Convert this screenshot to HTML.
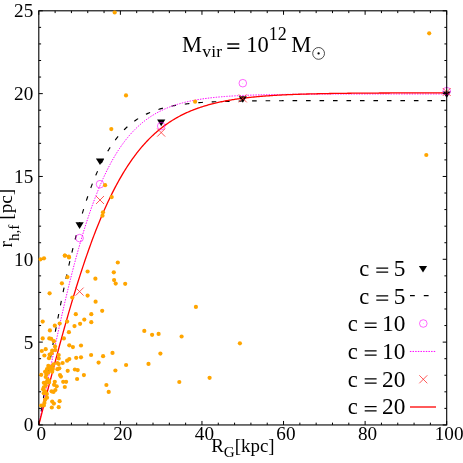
<!DOCTYPE html><html><head><meta charset="utf-8"><style>html,body{margin:0;padding:0;background:#fff}body{width:463px;height:463px;overflow:hidden;position:relative}</style></head><body><svg width="463" height="463" viewBox="0 0 463 463" style="position:absolute;left:0;top:0;will-change:transform">
<defs><clipPath id="cp"><rect x="38.3" y="10.3" width="408.9" height="415.2"/></clipPath></defs>
<path d="M38.80,424.95 L39.82,419.03 L40.84,413.12 L41.86,407.21 L42.88,401.32 L43.90,395.44 L44.92,389.58 L45.94,383.74 L46.96,377.93 L47.98,372.15 L49.00,366.41 L50.02,360.70 L51.04,355.04 L52.06,349.41 L53.08,343.84 L54.10,338.32 L55.12,332.85 L56.14,327.43 L57.16,322.08 L58.18,316.79 L59.19,311.56 L60.21,306.40 L61.23,301.30 L62.25,296.28 L63.27,291.33 L64.29,286.45 L65.31,281.65 L66.33,276.92 L67.35,272.28 L68.37,267.71 L69.39,263.22 L70.41,258.82 L71.43,254.49 L72.45,250.25 L73.47,246.09 L74.49,242.01 L75.51,238.01 L76.53,234.10 L77.55,230.27 L78.57,226.53 L79.59,222.87 L80.61,219.29 L81.63,215.79 L82.65,212.37 L83.67,209.03 L84.69,205.78 L85.71,202.60 L86.73,199.50 L87.75,196.48 L88.77,193.54 L89.79,190.67 L90.81,187.87 L91.83,185.15 L92.85,182.51 L93.87,179.93 L94.89,177.42 L95.91,174.98 L96.93,172.61 L97.95,170.31 L98.97,168.07 L99.98,165.90 L101.00,163.78 L102.02,161.73 L103.04,159.74 L104.06,157.81 L105.08,155.93 L106.10,154.11 L107.12,152.35 L108.14,150.64 L109.16,148.98 L110.18,147.37 L111.20,145.81 L112.22,144.30 L113.24,142.83 L114.26,141.41 L115.28,140.04 L116.30,138.71 L117.32,137.42 L118.34,136.17 L119.36,134.96 L120.38,133.79 L121.40,132.66 L122.42,131.57 L123.44,130.51 L124.46,129.48 L125.48,128.49 L126.50,127.54 L127.52,126.61 L128.54,125.71 L129.56,124.85 L130.58,124.01 L131.60,123.20 L132.62,122.41 L133.64,121.66 L134.66,120.93 L135.68,120.22 L136.70,119.54 L137.72,118.88 L138.74,118.24 L139.76,117.62 L140.77,117.03 L141.79,116.45 L142.81,115.90 L143.83,115.36 L144.85,114.84 L145.87,114.34 L146.89,113.86 L147.91,113.39 L148.93,112.94 L149.95,112.51 L150.97,112.09 L151.99,111.68 L153.01,111.29 L154.03,110.92 L155.05,110.55 L156.07,110.20 L157.09,109.86 L158.11,109.53 L159.13,109.22 L160.15,108.91 L161.17,108.62 L162.19,108.33 L163.21,108.06 L164.23,107.79 L165.25,107.54 L166.27,107.29 L167.29,107.05 L168.31,106.82 L169.33,106.60 L170.35,106.39 L171.37,106.18 L172.39,105.98 L173.41,105.79 L174.43,105.61 L175.45,105.43 L176.47,105.26 L177.49,105.09 L178.51,104.93 L179.53,104.77 L180.55,104.63 L181.56,104.48 L182.58,104.34 L183.60,104.21 L184.62,104.08 L185.64,103.96 L186.66,103.84 L187.68,103.72 L188.70,103.61 L189.72,103.50 L190.74,103.40 L191.76,103.30 L192.78,103.20 L193.80,103.11 L194.82,103.02 L195.84,102.93 L196.86,102.85 L197.88,102.77 L198.90,102.69 L199.92,102.61 L200.94,102.54 L201.96,102.47 L202.98,102.40 L204.00,102.34 L205.02,102.28 L206.04,102.22 L207.06,102.16 L208.08,102.10 L209.10,102.05 L210.12,101.99 L211.14,101.94 L212.16,101.90 L213.18,101.85 L214.20,101.80 L215.22,101.76 L216.24,101.72 L217.26,101.68 L218.28,101.64 L219.30,101.60 L220.32,101.57 L221.34,101.53 L222.36,101.50 L223.37,101.46 L224.39,101.43 L225.41,101.40 L226.43,101.37 L227.45,101.35 L228.47,101.32 L229.49,101.29 L230.51,101.27 L231.53,101.24 L232.55,101.22 L233.57,101.20 L234.59,101.17 L235.61,101.15 L236.63,101.13 L237.65,101.11 L238.67,101.09 L239.69,101.08 L240.71,101.06 L241.73,101.04 L242.75,101.03 L243.77,101.01 L244.79,101.00 L245.81,100.98 L246.83,100.97 L247.85,100.95 L248.87,100.94 L249.89,100.93 L250.91,100.92 L251.93,100.90 L252.95,100.89 L253.97,100.88 L254.99,100.87 L256.01,100.86 L257.03,100.85 L258.05,100.84 L259.07,100.83 L260.09,100.82 L261.11,100.82 L262.13,100.81 L263.14,100.80 L264.16,100.79 L265.18,100.78 L266.20,100.78 L267.22,100.77 L268.24,100.76 L269.26,100.76 L270.28,100.75 L271.30,100.75 L272.32,100.74 L273.34,100.73 L274.36,100.73 L275.38,100.72 L276.40,100.72 L277.42,100.71 L278.44,100.71 L279.46,100.71 L280.48,100.70 L281.50,100.70 L282.52,100.69 L283.54,100.69 L284.56,100.69 L285.58,100.68 L286.60,100.68 L287.62,100.68 L288.64,100.67 L289.66,100.67 L290.68,100.67 L291.70,100.66 L292.72,100.66 L293.74,100.66 L294.76,100.66 L295.78,100.65 L296.80,100.65 L297.82,100.65 L298.84,100.65 L299.86,100.64 L300.88,100.64 L301.90,100.64 L302.92,100.64 L303.94,100.64 L304.95,100.64 L305.97,100.63 L306.99,100.63 L308.01,100.63 L309.03,100.63 L310.05,100.63 L311.07,100.63 L312.09,100.62 L313.11,100.62 L314.13,100.62 L315.15,100.62 L316.17,100.62 L317.19,100.62 L318.21,100.62 L319.23,100.62 L320.25,100.62 L321.27,100.61 L322.29,100.61 L323.31,100.61 L324.33,100.61 L325.35,100.61 L326.37,100.61 L327.39,100.61 L328.41,100.61 L329.43,100.61 L330.45,100.61 L331.47,100.61 L332.49,100.61 L333.51,100.60 L334.53,100.60 L335.55,100.60 L336.57,100.60 L337.59,100.60 L338.61,100.60 L339.63,100.60 L340.65,100.60 L341.67,100.60 L342.69,100.60 L343.71,100.60 L344.73,100.60 L345.74,100.60 L346.76,100.60 L347.78,100.60 L348.80,100.60 L349.82,100.60 L350.84,100.60 L351.86,100.60 L352.88,100.60 L353.90,100.60 L354.92,100.60 L355.94,100.60 L356.96,100.60 L357.98,100.59 L359.00,100.59 L360.02,100.59 L361.04,100.59 L362.06,100.59 L363.08,100.59 L364.10,100.59 L365.12,100.59 L366.14,100.59 L367.16,100.59 L368.18,100.59 L369.20,100.59 L370.22,100.59 L371.24,100.59 L372.26,100.59 L373.28,100.59 L374.30,100.59 L375.32,100.59 L376.34,100.59 L377.36,100.59 L378.38,100.59 L379.40,100.59 L380.42,100.59 L381.44,100.59 L382.46,100.59 L383.48,100.59 L384.50,100.59 L385.51,100.59 L386.53,100.59 L387.55,100.59 L388.57,100.59 L389.59,100.59 L390.61,100.59 L391.63,100.59 L392.65,100.59 L393.67,100.59 L394.69,100.59 L395.71,100.59 L396.73,100.59 L397.75,100.59 L398.77,100.59 L399.79,100.59 L400.81,100.59 L401.83,100.59 L402.85,100.59 L403.87,100.59 L404.89,100.59 L405.91,100.59 L406.93,100.59 L407.95,100.59 L408.97,100.59 L409.99,100.59 L411.01,100.59 L412.03,100.59 L413.05,100.59 L414.07,100.59 L415.09,100.59 L416.11,100.59 L417.13,100.59 L418.15,100.59 L419.17,100.59 L420.19,100.59 L421.21,100.59 L422.23,100.59 L423.25,100.59 L424.27,100.59 L425.29,100.59 L426.31,100.59 L427.32,100.59 L428.34,100.59 L429.36,100.59 L430.38,100.59 L431.40,100.59 L432.42,100.59 L433.44,100.59 L434.46,100.59 L435.48,100.59 L436.50,100.59 L437.52,100.59 L438.54,100.59 L439.56,100.59 L440.58,100.59 L441.60,100.59 L442.62,100.59 L443.64,100.59 L444.66,100.59 L445.68,100.59 L446.70,100.59" fill="none" stroke="#000" stroke-width="1.15" stroke-dasharray="4.6 8.88" stroke-dashoffset="13.18"/>
<path d="M38.80,424.95 L39.82,419.91 L40.84,414.87 L41.86,409.84 L42.88,404.82 L43.90,399.80 L44.92,394.80 L45.94,389.81 L46.96,384.83 L47.98,379.88 L49.00,374.94 L50.02,370.03 L51.04,365.14 L52.06,360.28 L53.08,355.45 L54.10,350.65 L55.12,345.88 L56.14,341.14 L57.16,336.45 L58.18,331.79 L59.19,327.17 L60.21,322.59 L61.23,318.05 L62.25,313.56 L63.27,309.11 L64.29,304.72 L65.31,300.37 L66.33,296.07 L67.35,291.82 L68.37,287.62 L69.39,283.47 L70.41,279.38 L71.43,275.34 L72.45,271.36 L73.47,267.43 L74.49,263.57 L75.51,259.75 L76.53,256.00 L77.55,252.30 L78.57,248.66 L79.59,245.08 L80.61,241.56 L81.63,238.10 L82.65,234.69 L83.67,231.35 L84.69,228.06 L85.71,224.83 L86.73,221.67 L87.75,218.56 L88.77,215.51 L89.79,212.51 L90.81,209.58 L91.83,206.70 L92.85,203.88 L93.87,201.12 L94.89,198.41 L95.91,195.76 L96.93,193.17 L97.95,190.63 L98.97,188.14 L99.98,185.71 L101.00,183.33 L102.02,181.00 L103.04,178.72 L104.06,176.50 L105.08,174.32 L106.10,172.20 L107.12,170.12 L108.14,168.09 L109.16,166.11 L110.18,164.18 L111.20,162.29 L112.22,160.44 L113.24,158.65 L114.26,156.89 L115.28,155.18 L116.30,153.51 L117.32,151.88 L118.34,150.29 L119.36,148.74 L120.38,147.23 L121.40,145.75 L122.42,144.32 L123.44,142.92 L124.46,141.56 L125.48,140.23 L126.50,138.94 L127.52,137.68 L128.54,136.45 L129.56,135.26 L130.58,134.09 L131.60,132.96 L132.62,131.86 L133.64,130.78 L134.66,129.74 L135.68,128.72 L136.70,127.73 L137.72,126.77 L138.74,125.83 L139.76,124.92 L140.77,124.04 L141.79,123.17 L142.81,122.33 L143.83,121.52 L144.85,120.73 L145.87,119.95 L146.89,119.21 L147.91,118.48 L148.93,117.77 L149.95,117.08 L150.97,116.41 L151.99,115.76 L153.01,115.12 L154.03,114.51 L155.05,113.91 L156.07,113.33 L157.09,112.77 L158.11,112.22 L159.13,111.69 L160.15,111.17 L161.17,110.66 L162.19,110.18 L163.21,109.70 L164.23,109.24 L165.25,108.79 L166.27,108.36 L167.29,107.93 L168.31,107.52 L169.33,107.12 L170.35,106.74 L171.37,106.36 L172.39,106.00 L173.41,105.64 L174.43,105.30 L175.45,104.96 L176.47,104.64 L177.49,104.32 L178.51,104.02 L179.53,103.72 L180.55,103.43 L181.56,103.15 L182.58,102.88 L183.60,102.62 L184.62,102.36 L185.64,102.11 L186.66,101.87 L187.68,101.63 L188.70,101.41 L189.72,101.19 L190.74,100.97 L191.76,100.76 L192.78,100.56 L193.80,100.37 L194.82,100.18 L195.84,99.99 L196.86,99.81 L197.88,99.64 L198.90,99.47 L199.92,99.31 L200.94,99.15 L201.96,98.99 L202.98,98.84 L204.00,98.70 L205.02,98.56 L206.04,98.42 L207.06,98.29 L208.08,98.16 L209.10,98.03 L210.12,97.91 L211.14,97.79 L212.16,97.68 L213.18,97.57 L214.20,97.46 L215.22,97.36 L216.24,97.25 L217.26,97.16 L218.28,97.06 L219.30,96.97 L220.32,96.88 L221.34,96.79 L222.36,96.71 L223.37,96.62 L224.39,96.55 L225.41,96.47 L226.43,96.39 L227.45,96.32 L228.47,96.25 L229.49,96.18 L230.51,96.12 L231.53,96.05 L232.55,95.99 L233.57,95.93 L234.59,95.87 L235.61,95.81 L236.63,95.76 L237.65,95.70 L238.67,95.65 L239.69,95.60 L240.71,95.55 L241.73,95.50 L242.75,95.46 L243.77,95.41 L244.79,95.37 L245.81,95.33 L246.83,95.29 L247.85,95.25 L248.87,95.21 L249.89,95.17 L250.91,95.13 L251.93,95.10 L252.95,95.07 L253.97,95.03 L254.99,95.00 L256.01,94.97 L257.03,94.94 L258.05,94.91 L259.07,94.88 L260.09,94.85 L261.11,94.83 L262.13,94.80 L263.14,94.78 L264.16,94.75 L265.18,94.73 L266.20,94.70 L267.22,94.68 L268.24,94.66 L269.26,94.64 L270.28,94.62 L271.30,94.60 L272.32,94.58 L273.34,94.56 L274.36,94.54 L275.38,94.53 L276.40,94.51 L277.42,94.49 L278.44,94.48 L279.46,94.46 L280.48,94.45 L281.50,94.43 L282.52,94.42 L283.54,94.40 L284.56,94.39 L285.58,94.38 L286.60,94.37 L287.62,94.35 L288.64,94.34 L289.66,94.33 L290.68,94.32 L291.70,94.31 L292.72,94.30 L293.74,94.29 L294.76,94.28 L295.78,94.27 L296.80,94.26 L297.82,94.25 L298.84,94.24 L299.86,94.23 L300.88,94.23 L301.90,94.22 L302.92,94.21 L303.94,94.20 L304.95,94.20 L305.97,94.19 L306.99,94.18 L308.01,94.17 L309.03,94.17 L310.05,94.16 L311.07,94.16 L312.09,94.15 L313.11,94.14 L314.13,94.14 L315.15,94.13 L316.17,94.13 L317.19,94.12 L318.21,94.12 L319.23,94.11 L320.25,94.11 L321.27,94.11 L322.29,94.10 L323.31,94.10 L324.33,94.09 L325.35,94.09 L326.37,94.08 L327.39,94.08 L328.41,94.08 L329.43,94.07 L330.45,94.07 L331.47,94.07 L332.49,94.06 L333.51,94.06 L334.53,94.06 L335.55,94.06 L336.57,94.05 L337.59,94.05 L338.61,94.05 L339.63,94.04 L340.65,94.04 L341.67,94.04 L342.69,94.04 L343.71,94.03 L344.73,94.03 L345.74,94.03 L346.76,94.03 L347.78,94.03 L348.80,94.02 L349.82,94.02 L350.84,94.02 L351.86,94.02 L352.88,94.02 L353.90,94.02 L354.92,94.01 L355.94,94.01 L356.96,94.01 L357.98,94.01 L359.00,94.01 L360.02,94.01 L361.04,94.01 L362.06,94.00 L363.08,94.00 L364.10,94.00 L365.12,94.00 L366.14,94.00 L367.16,94.00 L368.18,94.00 L369.20,94.00 L370.22,93.99 L371.24,93.99 L372.26,93.99 L373.28,93.99 L374.30,93.99 L375.32,93.99 L376.34,93.99 L377.36,93.99 L378.38,93.99 L379.40,93.99 L380.42,93.99 L381.44,93.99 L382.46,93.98 L383.48,93.98 L384.50,93.98 L385.51,93.98 L386.53,93.98 L387.55,93.98 L388.57,93.98 L389.59,93.98 L390.61,93.98 L391.63,93.98 L392.65,93.98 L393.67,93.98 L394.69,93.98 L395.71,93.98 L396.73,93.98 L397.75,93.98 L398.77,93.98 L399.79,93.98 L400.81,93.97 L401.83,93.97 L402.85,93.97 L403.87,93.97 L404.89,93.97 L405.91,93.97 L406.93,93.97 L407.95,93.97 L408.97,93.97 L409.99,93.97 L411.01,93.97 L412.03,93.97 L413.05,93.97 L414.07,93.97 L415.09,93.97 L416.11,93.97 L417.13,93.97 L418.15,93.97 L419.17,93.97 L420.19,93.97 L421.21,93.97 L422.23,93.97 L423.25,93.97 L424.27,93.97 L425.29,93.97 L426.31,93.97 L427.32,93.97 L428.34,93.97 L429.36,93.97 L430.38,93.97 L431.40,93.97 L432.42,93.97 L433.44,93.97 L434.46,93.97 L435.48,93.97 L436.50,93.97 L437.52,93.97 L438.54,93.97 L439.56,93.97 L440.58,93.97 L441.60,93.97 L442.62,93.97 L443.64,93.97 L444.66,93.96 L445.68,93.96 L446.70,93.96" fill="none" stroke="#ff00ff" stroke-width="1.0" stroke-dasharray="1.45 1.2"/>
<path d="M38.80,424.95 L39.82,420.97 L40.84,416.99 L41.86,413.01 L42.88,409.03 L43.90,405.06 L44.92,401.10 L45.94,397.14 L46.96,393.19 L47.98,389.25 L49.00,385.31 L50.02,381.39 L51.04,377.49 L52.06,373.59 L53.08,369.71 L54.10,365.85 L55.12,362.00 L56.14,358.17 L57.16,354.36 L58.18,350.56 L59.19,346.79 L60.21,343.04 L61.23,339.31 L62.25,335.60 L63.27,331.92 L64.29,328.26 L65.31,324.63 L66.33,321.03 L67.35,317.45 L68.37,313.90 L69.39,310.37 L70.41,306.88 L71.43,303.41 L72.45,299.98 L73.47,296.58 L74.49,293.20 L75.51,289.86 L76.53,286.56 L77.55,283.28 L78.57,280.04 L79.59,276.83 L80.61,273.66 L81.63,270.52 L82.65,267.42 L83.67,264.35 L84.69,261.31 L85.71,258.32 L86.73,255.35 L87.75,252.43 L88.77,249.54 L89.79,246.68 L90.81,243.87 L91.83,241.09 L92.85,238.34 L93.87,235.63 L94.89,232.96 L95.91,230.33 L96.93,227.73 L97.95,225.17 L98.97,222.65 L99.98,220.16 L101.00,217.71 L102.02,215.30 L103.04,212.92 L104.06,210.58 L105.08,208.27 L106.10,206.00 L107.12,203.77 L108.14,201.57 L109.16,199.41 L110.18,197.28 L111.20,195.18 L112.22,193.12 L113.24,191.10 L114.26,189.11 L115.28,187.15 L116.30,185.22 L117.32,183.33 L118.34,181.47 L119.36,179.65 L120.38,177.85 L121.40,176.09 L122.42,174.36 L123.44,172.66 L124.46,170.99 L125.48,169.35 L126.50,167.74 L127.52,166.16 L128.54,164.61 L129.56,163.09 L130.58,161.60 L131.60,160.13 L132.62,158.69 L133.64,157.28 L134.66,155.90 L135.68,154.55 L136.70,153.22 L137.72,151.91 L138.74,150.63 L139.76,149.38 L140.77,148.15 L141.79,146.95 L142.81,145.76 L143.83,144.61 L144.85,143.47 L145.87,142.36 L146.89,141.27 L147.91,140.21 L148.93,139.16 L149.95,138.14 L150.97,137.14 L151.99,136.15 L153.01,135.19 L154.03,134.25 L155.05,133.33 L156.07,132.43 L157.09,131.54 L158.11,130.68 L159.13,129.83 L160.15,129.00 L161.17,128.19 L162.19,127.39 L163.21,126.61 L164.23,125.85 L165.25,125.11 L166.27,124.38 L167.29,123.67 L168.31,122.97 L169.33,122.28 L170.35,121.62 L171.37,120.96 L172.39,120.32 L173.41,119.70 L174.43,119.08 L175.45,118.49 L176.47,117.90 L177.49,117.33 L178.51,116.77 L179.53,116.22 L180.55,115.68 L181.56,115.16 L182.58,114.65 L183.60,114.15 L184.62,113.66 L185.64,113.18 L186.66,112.71 L187.68,112.25 L188.70,111.80 L189.72,111.37 L190.74,110.94 L191.76,110.52 L192.78,110.11 L193.80,109.71 L194.82,109.32 L195.84,108.94 L196.86,108.57 L197.88,108.20 L198.90,107.84 L199.92,107.50 L200.94,107.15 L201.96,106.82 L202.98,106.50 L204.00,106.18 L205.02,105.87 L206.04,105.56 L207.06,105.27 L208.08,104.98 L209.10,104.69 L210.12,104.42 L211.14,104.15 L212.16,103.88 L213.18,103.62 L214.20,103.37 L215.22,103.12 L216.24,102.88 L217.26,102.65 L218.28,102.42 L219.30,102.19 L220.32,101.97 L221.34,101.76 L222.36,101.55 L223.37,101.35 L224.39,101.15 L225.41,100.95 L226.43,100.76 L227.45,100.57 L228.47,100.39 L229.49,100.21 L230.51,100.04 L231.53,99.87 L232.55,99.70 L233.57,99.54 L234.59,99.38 L235.61,99.23 L236.63,99.08 L237.65,98.93 L238.67,98.79 L239.69,98.65 L240.71,98.51 L241.73,98.38 L242.75,98.24 L243.77,98.12 L244.79,97.99 L245.81,97.87 L246.83,97.75 L247.85,97.63 L248.87,97.52 L249.89,97.41 L250.91,97.30 L251.93,97.20 L252.95,97.09 L253.97,96.99 L254.99,96.89 L256.01,96.80 L257.03,96.70 L258.05,96.61 L259.07,96.52 L260.09,96.43 L261.11,96.35 L262.13,96.26 L263.14,96.18 L264.16,96.10 L265.18,96.02 L266.20,95.95 L267.22,95.87 L268.24,95.80 L269.26,95.73 L270.28,95.66 L271.30,95.59 L272.32,95.53 L273.34,95.46 L274.36,95.40 L275.38,95.34 L276.40,95.28 L277.42,95.22 L278.44,95.16 L279.46,95.11 L280.48,95.05 L281.50,95.00 L282.52,94.95 L283.54,94.90 L284.56,94.85 L285.58,94.80 L286.60,94.75 L287.62,94.71 L288.64,94.66 L289.66,94.62 L290.68,94.57 L291.70,94.53 L292.72,94.49 L293.74,94.45 L294.76,94.41 L295.78,94.38 L296.80,94.34 L297.82,94.30 L298.84,94.27 L299.86,94.23 L300.88,94.20 L301.90,94.16 L302.92,94.13 L303.94,94.10 L304.95,94.07 L305.97,94.04 L306.99,94.01 L308.01,93.98 L309.03,93.95 L310.05,93.93 L311.07,93.90 L312.09,93.87 L313.11,93.85 L314.13,93.82 L315.15,93.80 L316.17,93.78 L317.19,93.75 L318.21,93.73 L319.23,93.71 L320.25,93.69 L321.27,93.67 L322.29,93.65 L323.31,93.63 L324.33,93.61 L325.35,93.59 L326.37,93.57 L327.39,93.55 L328.41,93.53 L329.43,93.52 L330.45,93.50 L331.47,93.48 L332.49,93.47 L333.51,93.45 L334.53,93.44 L335.55,93.42 L336.57,93.41 L337.59,93.39 L338.61,93.38 L339.63,93.36 L340.65,93.35 L341.67,93.34 L342.69,93.32 L343.71,93.31 L344.73,93.30 L345.74,93.29 L346.76,93.28 L347.78,93.27 L348.80,93.25 L349.82,93.24 L350.84,93.23 L351.86,93.22 L352.88,93.21 L353.90,93.20 L354.92,93.19 L355.94,93.18 L356.96,93.18 L357.98,93.17 L359.00,93.16 L360.02,93.15 L361.04,93.14 L362.06,93.13 L363.08,93.13 L364.10,93.12 L365.12,93.11 L366.14,93.10 L367.16,93.10 L368.18,93.09 L369.20,93.08 L370.22,93.08 L371.24,93.07 L372.26,93.06 L373.28,93.06 L374.30,93.05 L375.32,93.04 L376.34,93.04 L377.36,93.03 L378.38,93.03 L379.40,93.02 L380.42,93.02 L381.44,93.01 L382.46,93.01 L383.48,93.00 L384.50,93.00 L385.51,92.99 L386.53,92.99 L387.55,92.98 L388.57,92.98 L389.59,92.98 L390.61,92.97 L391.63,92.97 L392.65,92.96 L393.67,92.96 L394.69,92.96 L395.71,92.95 L396.73,92.95 L397.75,92.95 L398.77,92.94 L399.79,92.94 L400.81,92.94 L401.83,92.93 L402.85,92.93 L403.87,92.93 L404.89,92.92 L405.91,92.92 L406.93,92.92 L407.95,92.91 L408.97,92.91 L409.99,92.91 L411.01,92.91 L412.03,92.90 L413.05,92.90 L414.07,92.90 L415.09,92.90 L416.11,92.89 L417.13,92.89 L418.15,92.89 L419.17,92.89 L420.19,92.89 L421.21,92.88 L422.23,92.88 L423.25,92.88 L424.27,92.88 L425.29,92.88 L426.31,92.87 L427.32,92.87 L428.34,92.87 L429.36,92.87 L430.38,92.87 L431.40,92.87 L432.42,92.87 L433.44,92.86 L434.46,92.86 L435.48,92.86 L436.50,92.86 L437.52,92.86 L438.54,92.86 L439.56,92.86 L440.58,92.85 L441.60,92.85 L442.62,92.85 L443.64,92.85 L444.66,92.85 L445.68,92.85 L446.70,92.85" fill="none" stroke="#ff0000" stroke-width="1.3"/>
<path d="M75.5,222.3 L83.7,222.3 L79.6,228.9Z" fill="#000"/>
<path d="M95.9,158.4 L104.1,158.4 L100.0,165.0Z" fill="#000"/>
<path d="M157.1,119.6 L165.3,119.6 L161.2,126.2Z" fill="#000"/>
<path d="M238.7,96.2 L246.8,96.2 L242.8,102.8Z" fill="#000"/>
<path d="M442.6,91.4 L450.8,91.4 L446.7,98.0Z" fill="#000"/>
<circle cx="79.6" cy="238.1" r="3.8" fill="none" stroke="#ff00ff" stroke-width="0.6"/><circle cx="79.6" cy="238.1" r="0.45" fill="#ff00ff" opacity="0.45"/>
<circle cx="100.0" cy="184.2" r="3.8" fill="none" stroke="#ff00ff" stroke-width="0.6"/><circle cx="100.0" cy="184.2" r="0.45" fill="#ff00ff" opacity="0.45"/>
<circle cx="161.2" cy="126.1" r="3.8" fill="none" stroke="#ff00ff" stroke-width="0.6"/><circle cx="161.2" cy="126.1" r="0.45" fill="#ff00ff" opacity="0.45"/>
<circle cx="242.8" cy="83.2" r="3.8" fill="none" stroke="#ff00ff" stroke-width="0.6"/><circle cx="242.8" cy="83.2" r="0.45" fill="#ff00ff" opacity="0.45"/>
<circle cx="446.7" cy="91.1" r="3.8" fill="none" stroke="#ff00ff" stroke-width="0.6"/><circle cx="446.7" cy="91.1" r="0.45" fill="#ff00ff" opacity="0.45"/>
<path d="M75.6,287.6 L83.6,295.6 M75.6,295.6 L83.6,287.6" stroke="#ff3030" stroke-width="0.8" fill="none"/>
<path d="M96.0,196.0 L104.0,204.0 M96.0,204.0 L104.0,196.0" stroke="#ff3030" stroke-width="0.8" fill="none"/>
<path d="M157.2,128.6 L165.2,136.6 M157.2,136.6 L165.2,128.6" stroke="#ff3030" stroke-width="0.8" fill="none"/>
<path d="M238.8,94.4 L246.8,102.4 M238.8,102.4 L246.8,94.4" stroke="#ff3030" stroke-width="0.8" fill="none"/>
<path d="M442.7,88.0 L450.7,96.0 M442.7,96.0 L450.7,88.0" stroke="#ff3030" stroke-width="0.8" fill="none"/>
<rect x="38.8" y="10.8" width="407.90" height="414.15" fill="none" stroke="#000" stroke-width="1.1"/>
<path d="M38.80,424.95 v-4.0 M38.80,10.8 v4.0 M55.12,424.95 v-2.3 M55.12,10.8 v2.3 M71.43,424.95 v-2.3 M71.43,10.8 v2.3 M87.75,424.95 v-2.3 M87.75,10.8 v2.3 M104.06,424.95 v-2.3 M104.06,10.8 v2.3 M120.38,424.95 v-4.0 M120.38,10.8 v4.0 M136.70,424.95 v-2.3 M136.70,10.8 v2.3 M153.01,424.95 v-2.3 M153.01,10.8 v2.3 M169.33,424.95 v-2.3 M169.33,10.8 v2.3 M185.64,424.95 v-2.3 M185.64,10.8 v2.3 M201.96,424.95 v-4.0 M201.96,10.8 v4.0 M218.28,424.95 v-2.3 M218.28,10.8 v2.3 M234.59,424.95 v-2.3 M234.59,10.8 v2.3 M250.91,424.95 v-2.3 M250.91,10.8 v2.3 M267.22,424.95 v-2.3 M267.22,10.8 v2.3 M283.54,424.95 v-4.0 M283.54,10.8 v4.0 M299.86,424.95 v-2.3 M299.86,10.8 v2.3 M316.17,424.95 v-2.3 M316.17,10.8 v2.3 M332.49,424.95 v-2.3 M332.49,10.8 v2.3 M348.80,424.95 v-2.3 M348.80,10.8 v2.3 M365.12,424.95 v-4.0 M365.12,10.8 v4.0 M381.44,424.95 v-2.3 M381.44,10.8 v2.3 M397.75,424.95 v-2.3 M397.75,10.8 v2.3 M414.07,424.95 v-2.3 M414.07,10.8 v2.3 M430.38,424.95 v-2.3 M430.38,10.8 v2.3 M446.70,424.95 v-4.0 M446.70,10.8 v4.0 M38.8,424.95 h4.0 M446.7,424.95 h-4.0 M38.8,408.38 h2.3 M446.7,408.38 h-2.3 M38.8,391.82 h2.3 M446.7,391.82 h-2.3 M38.8,375.25 h2.3 M446.7,375.25 h-2.3 M38.8,358.69 h2.3 M446.7,358.69 h-2.3 M38.8,342.12 h4.0 M446.7,342.12 h-4.0 M38.8,325.55 h2.3 M446.7,325.55 h-2.3 M38.8,308.99 h2.3 M446.7,308.99 h-2.3 M38.8,292.42 h2.3 M446.7,292.42 h-2.3 M38.8,275.86 h2.3 M446.7,275.86 h-2.3 M38.8,259.29 h4.0 M446.7,259.29 h-4.0 M38.8,242.72 h2.3 M446.7,242.72 h-2.3 M38.8,226.16 h2.3 M446.7,226.16 h-2.3 M38.8,209.59 h2.3 M446.7,209.59 h-2.3 M38.8,193.03 h2.3 M446.7,193.03 h-2.3 M38.8,176.46 h4.0 M446.7,176.46 h-4.0 M38.8,159.89 h2.3 M446.7,159.89 h-2.3 M38.8,143.33 h2.3 M446.7,143.33 h-2.3 M38.8,126.76 h2.3 M446.7,126.76 h-2.3 M38.8,110.20 h2.3 M446.7,110.20 h-2.3 M38.8,93.63 h4.0 M446.7,93.63 h-4.0 M38.8,77.06 h2.3 M446.7,77.06 h-2.3 M38.8,60.50 h2.3 M446.7,60.50 h-2.3 M38.8,43.93 h2.3 M446.7,43.93 h-2.3 M38.8,27.37 h2.3 M446.7,27.37 h-2.3 M38.8,10.80 h4.0 M446.7,10.80 h-4.0" stroke="#000" stroke-width="1" fill="none"/>
<g fill="#ffa500" clip-path="url(#cp)">
<circle cx="49.0" cy="367.0" r="2.1"/>
<circle cx="51.6" cy="366.6" r="2.1"/>
<circle cx="47.0" cy="369.2" r="2.1"/>
<circle cx="45.1" cy="371.8" r="2.1"/>
<circle cx="50.3" cy="369.6" r="2.1"/>
<circle cx="52.8" cy="368.9" r="2.1"/>
<circle cx="52.2" cy="371.8" r="2.1"/>
<circle cx="57.4" cy="369.2" r="2.1"/>
<circle cx="59.3" cy="368.3" r="2.1"/>
<circle cx="67.7" cy="370.8" r="2.1"/>
<circle cx="74.9" cy="369.5" r="2.1"/>
<circle cx="77.7" cy="370.1" r="2.1"/>
<circle cx="41.2" cy="374.8" r="2.1"/>
<circle cx="46.4" cy="374.4" r="2.1"/>
<circle cx="48.3" cy="372.5" r="2.1"/>
<circle cx="45.7" cy="377.0" r="2.1"/>
<circle cx="60.0" cy="375.1" r="2.1"/>
<circle cx="60.9" cy="376.6" r="2.1"/>
<circle cx="83.9" cy="375.1" r="2.1"/>
<circle cx="77.1" cy="379.0" r="2.1"/>
<circle cx="47.7" cy="379.6" r="2.1"/>
<circle cx="49.0" cy="380.9" r="2.1"/>
<circle cx="43.8" cy="382.8" r="2.1"/>
<circle cx="46.4" cy="382.2" r="2.1"/>
<circle cx="54.8" cy="381.8" r="2.1"/>
<circle cx="63.2" cy="381.8" r="2.1"/>
<circle cx="66.1" cy="381.8" r="2.1"/>
<circle cx="45.7" cy="385.4" r="2.1"/>
<circle cx="43.8" cy="387.4" r="2.1"/>
<circle cx="54.1" cy="384.8" r="2.1"/>
<circle cx="56.7" cy="386.3" r="2.1"/>
<circle cx="64.8" cy="387.0" r="2.1"/>
<circle cx="43.1" cy="389.3" r="2.1"/>
<circle cx="45.1" cy="391.3" r="2.1"/>
<circle cx="55.4" cy="390.0" r="2.1"/>
<circle cx="53.5" cy="391.9" r="2.1"/>
<circle cx="51.6" cy="391.3" r="2.1"/>
<circle cx="46.8" cy="393.9" r="2.1"/>
<circle cx="43.8" cy="393.2" r="2.1"/>
<circle cx="47.0" cy="397.7" r="2.1"/>
<circle cx="45.1" cy="399.7" r="2.1"/>
<circle cx="52.2" cy="401.6" r="2.1"/>
<circle cx="53.9" cy="403.6" r="2.1"/>
<circle cx="59.6" cy="401.2" r="2.1"/>
<circle cx="44.4" cy="402.9" r="2.1"/>
<circle cx="41.2" cy="405.5" r="2.1"/>
<circle cx="43.8" cy="405.5" r="2.1"/>
<circle cx="51.8" cy="407.5" r="2.1"/>
<circle cx="58.7" cy="407.2" r="2.1"/>
<circle cx="75.8" cy="314.2" r="2.1"/>
<circle cx="91.3" cy="314.2" r="2.1"/>
<circle cx="42.7" cy="321.6" r="2.1"/>
<circle cx="59.7" cy="323.5" r="2.1"/>
<circle cx="67.1" cy="321.6" r="2.1"/>
<circle cx="54.8" cy="325.7" r="2.1"/>
<circle cx="84.3" cy="319.6" r="2.1"/>
<circle cx="91.3" cy="322.2" r="2.1"/>
<circle cx="80.1" cy="323.8" r="2.1"/>
<circle cx="74.5" cy="326.1" r="2.1"/>
<circle cx="49.9" cy="330.4" r="2.1"/>
<circle cx="68.9" cy="332.2" r="2.1"/>
<circle cx="42.7" cy="338.4" r="2.1"/>
<circle cx="49.3" cy="338.4" r="2.1"/>
<circle cx="51.2" cy="338.8" r="2.1"/>
<circle cx="63.9" cy="338.4" r="2.1"/>
<circle cx="53.9" cy="341.2" r="2.1"/>
<circle cx="69.3" cy="345.3" r="2.1"/>
<circle cx="72.9" cy="347.1" r="2.1"/>
<circle cx="81.0" cy="345.5" r="2.1"/>
<circle cx="55.0" cy="346.4" r="2.1"/>
<circle cx="45.7" cy="349.2" r="2.1"/>
<circle cx="41.8" cy="351.0" r="2.1"/>
<circle cx="52.2" cy="350.7" r="2.1"/>
<circle cx="55.4" cy="350.1" r="2.1"/>
<circle cx="44.4" cy="355.5" r="2.1"/>
<circle cx="49.6" cy="354.6" r="2.1"/>
<circle cx="51.6" cy="353.3" r="2.1"/>
<circle cx="58.7" cy="355.0" r="2.1"/>
<circle cx="91.1" cy="355.0" r="2.1"/>
<circle cx="49.0" cy="358.2" r="2.1"/>
<circle cx="58.7" cy="358.5" r="2.1"/>
<circle cx="76.2" cy="357.8" r="2.1"/>
<circle cx="81.0" cy="357.3" r="2.1"/>
<circle cx="69.3" cy="359.1" r="2.1"/>
<circle cx="67.1" cy="360.7" r="2.1"/>
<circle cx="62.6" cy="363.0" r="2.1"/>
<circle cx="57.4" cy="363.0" r="2.1"/>
<circle cx="53.5" cy="364.3" r="2.1"/>
<circle cx="48.3" cy="365.9" r="2.1"/>
<circle cx="58.7" cy="364.1" r="2.1"/>
<circle cx="40.5" cy="259.3" r="2.1"/>
<circle cx="44.0" cy="258.3" r="2.1"/>
<circle cx="64.8" cy="255.7" r="2.1"/>
<circle cx="69.0" cy="257.4" r="2.1"/>
<circle cx="87.6" cy="271.5" r="2.1"/>
<circle cx="67.5" cy="277.1" r="2.1"/>
<circle cx="61.9" cy="283.3" r="2.1"/>
<circle cx="95.4" cy="278.7" r="2.1"/>
<circle cx="49.6" cy="293.3" r="2.1"/>
<circle cx="72.3" cy="297.6" r="2.1"/>
<circle cx="87.6" cy="295.6" r="2.1"/>
<circle cx="95.6" cy="301.7" r="2.1"/>
<circle cx="115.4" cy="370.5" r="2.1"/>
<circle cx="106.4" cy="385.0" r="2.1"/>
<circle cx="108.7" cy="391.9" r="2.1"/>
<circle cx="102.2" cy="310.8" r="2.1"/>
<circle cx="144.3" cy="330.9" r="2.1"/>
<circle cx="152.1" cy="334.8" r="2.1"/>
<circle cx="112.5" cy="352.9" r="2.1"/>
<circle cx="103.1" cy="356.2" r="2.1"/>
<circle cx="98.6" cy="362.6" r="2.1"/>
<circle cx="126.1" cy="365.0" r="2.1"/>
<circle cx="148.5" cy="363.9" r="2.1"/>
<circle cx="117.8" cy="262.5" r="2.1"/>
<circle cx="113.8" cy="272.3" r="2.1"/>
<circle cx="114.1" cy="280.1" r="2.1"/>
<circle cx="115.7" cy="283.6" r="2.1"/>
<circle cx="125.2" cy="283.8" r="2.1"/>
<circle cx="49.0" cy="382.5" r="2.1"/>
<circle cx="195.9" cy="306.9" r="2.1"/>
<circle cx="158.6" cy="333.9" r="2.1"/>
<circle cx="181.6" cy="336.5" r="2.1"/>
<circle cx="239.9" cy="343.3" r="2.1"/>
<circle cx="160.4" cy="353.6" r="2.1"/>
<circle cx="179.3" cy="382.0" r="2.1"/>
<circle cx="209.6" cy="377.8" r="2.1"/>
<circle cx="105.1" cy="185.2" r="2.1"/>
<circle cx="111.7" cy="197.1" r="2.1"/>
<circle cx="103.0" cy="212.3" r="2.1"/>
<circle cx="102.5" cy="215.7" r="2.1"/>
<circle cx="64.9" cy="255.5" r="2.1"/>
<circle cx="68.8" cy="256.5" r="2.1"/>
<circle cx="126.0" cy="95.4" r="2.1"/>
<circle cx="111.3" cy="129.1" r="2.1"/>
<circle cx="195.1" cy="101.7" r="2.1"/>
<circle cx="114.7" cy="12.4" r="2.1"/>
<circle cx="429.2" cy="33.3" r="2.1"/>
<circle cx="426.3" cy="155.0" r="2.1"/>
</g>
<path d="M418.9,266.0 L427.1,266.0 L423.0,272.6Z" fill="#000"/>
<path d="M410.0,295.6 H436" stroke="#000" stroke-width="1.15" stroke-dasharray="4.8 9.0"/>
<circle cx="423.3" cy="323.5" r="3.8" fill="none" stroke="#ff00ff" stroke-width="0.6"/><circle cx="423.3" cy="323.5" r="0.45" fill="#ff00ff" opacity="0.45"/>
<path d="M409.9,351.45 H435.6" stroke="#ff00ff" stroke-width="1.0" stroke-dasharray="1.45 1.2"/>
<path d="M419.3,375.3 L427.3,383.3 M419.3,383.3 L427.3,375.3" stroke="#ff3030" stroke-width="0.8" fill="none"/>
<path d="M410.0,407.0 H436.0" stroke="#ff0000" stroke-width="1.3"/>
<text x="36.4" y="440.4" textLength="9.6" lengthAdjust="spacingAndGlyphs" style="font-family:'Liberation Serif',serif;fill:#000;font-size:18px">0</text>
<text x="113.2" y="440.4" textLength="19.2" lengthAdjust="spacingAndGlyphs" style="font-family:'Liberation Serif',serif;fill:#000;font-size:18px">20</text>
<text x="194.8" y="440.4" textLength="19.2" lengthAdjust="spacingAndGlyphs" style="font-family:'Liberation Serif',serif;fill:#000;font-size:18px">40</text>
<text x="276.3" y="440.4" textLength="19.2" lengthAdjust="spacingAndGlyphs" style="font-family:'Liberation Serif',serif;fill:#000;font-size:18px">60</text>
<text x="357.9" y="440.4" textLength="19.2" lengthAdjust="spacingAndGlyphs" style="font-family:'Liberation Serif',serif;fill:#000;font-size:18px">80</text>
<text x="434.7" y="440.4" textLength="28.8" lengthAdjust="spacingAndGlyphs" style="font-family:'Liberation Serif',serif;fill:#000;font-size:18px">100</text>
<text x="23.7" y="431" textLength="9.6" lengthAdjust="spacingAndGlyphs" style="font-family:'Liberation Serif',serif;fill:#000;font-size:18px">0</text>
<text x="23.7" y="349" textLength="9.6" lengthAdjust="spacingAndGlyphs" style="font-family:'Liberation Serif',serif;fill:#000;font-size:18px">5</text>
<text x="14.1" y="266" textLength="19.2" lengthAdjust="spacingAndGlyphs" style="font-family:'Liberation Serif',serif;fill:#000;font-size:18px">10</text>
<text x="14.1" y="183" textLength="19.2" lengthAdjust="spacingAndGlyphs" style="font-family:'Liberation Serif',serif;fill:#000;font-size:18px">15</text>
<text x="14.1" y="100" textLength="19.2" lengthAdjust="spacingAndGlyphs" style="font-family:'Liberation Serif',serif;fill:#000;font-size:18px">20</text>
<text x="14.1" y="17" textLength="19.2" lengthAdjust="spacingAndGlyphs" style="font-family:'Liberation Serif',serif;fill:#000;font-size:18px">25</text>
<text x="405.4" y="275.7" text-anchor="end" style="font-family:'Liberation Serif',serif;fill:#000;font-size:23.3px">5</text>
<path d="M376.3,268.0 H388.2 M376.3,272.2 H388.2" stroke="#000" stroke-width="1.25" fill="none"/>
<text x="369.3" y="275.7" text-anchor="end" style="font-family:'Liberation Serif',serif;fill:#000;font-size:22.5px">c</text>
<text x="405.4" y="303.5" text-anchor="end" style="font-family:'Liberation Serif',serif;fill:#000;font-size:23.3px">5</text>
<path d="M376.3,295.8 H388.2 M376.3,300.0 H388.2" stroke="#000" stroke-width="1.25" fill="none"/>
<text x="369.3" y="303.5" text-anchor="end" style="font-family:'Liberation Serif',serif;fill:#000;font-size:22.5px">c</text>
<text x="405.4" y="330.9" text-anchor="end" style="font-family:'Liberation Serif',serif;fill:#000;font-size:23.3px">10</text>
<path d="M364.7,323.2 H376.6 M364.7,327.4 H376.6" stroke="#000" stroke-width="1.25" fill="none"/>
<text x="357.7" y="330.9" text-anchor="end" style="font-family:'Liberation Serif',serif;fill:#000;font-size:22.5px">c</text>
<text x="405.4" y="358.6" text-anchor="end" style="font-family:'Liberation Serif',serif;fill:#000;font-size:23.3px">10</text>
<path d="M364.7,350.9 H376.6 M364.7,355.1 H376.6" stroke="#000" stroke-width="1.25" fill="none"/>
<text x="357.7" y="358.6" text-anchor="end" style="font-family:'Liberation Serif',serif;fill:#000;font-size:22.5px">c</text>
<text x="405.4" y="386.5" text-anchor="end" style="font-family:'Liberation Serif',serif;fill:#000;font-size:23.3px">20</text>
<path d="M364.7,378.8 H376.6 M364.7,383.0 H376.6" stroke="#000" stroke-width="1.25" fill="none"/>
<text x="357.7" y="386.5" text-anchor="end" style="font-family:'Liberation Serif',serif;fill:#000;font-size:22.5px">c</text>
<text x="405.4" y="414.3" text-anchor="end" style="font-family:'Liberation Serif',serif;fill:#000;font-size:23.3px">20</text>
<path d="M364.7,406.6 H376.6 M364.7,410.8 H376.6" stroke="#000" stroke-width="1.25" fill="none"/>
<text x="357.7" y="414.3" text-anchor="end" style="font-family:'Liberation Serif',serif;fill:#000;font-size:22.5px">c</text>
<text x="182.0" y="52.1" style="font-family:'Liberation Serif',serif;fill:#000;font-size:22.5px">M</text>
<text x="202.2" y="57.4" style="font-family:'Liberation Serif',serif;fill:#000;font-size:17.5px;letter-spacing:0.2px">vir</text>
<path d="M227.3,44.0 H239.3 M227.3,48.2 H239.3" stroke="#000" stroke-width="1.45" fill="none"/>
<text x="246.2" y="52.1" style="font-family:'Liberation Serif',serif;fill:#000;font-size:22.5px">10</text>
<text x="268.7" y="39.8" style="font-family:'Liberation Serif',serif;fill:#000;font-size:17.5px;letter-spacing:0.2px;font-size:18px;letter-spacing:0">12</text>
<text x="291.2" y="52.1" style="font-family:'Liberation Serif',serif;fill:#000;font-size:22.5px">M</text>
<circle cx="318.6" cy="53.4" r="5.9" fill="none" stroke="#000" stroke-width="0.7"/><circle cx="318.6" cy="53.4" r="1.15" fill="#000"/>
<text transform="translate(211.2,451.5) scale(1.05,1)" style="font-family:'Liberation Serif',serif;fill:#000;font-size:18px">R<tspan dy="5.5" style="font-size:14.4px">G</tspan><tspan dy="-5.5">[kpc]</tspan></text>
<text transform="translate(12.0,247.5) rotate(-90) scale(1.065,1)" style="font-family:'Liberation Serif',serif;fill:#000;font-size:18px">r<tspan dy="7" style="font-size:14.4px">h,f</tspan><tspan dy="-7"> [pc]</tspan></text>
</svg></body></html>
